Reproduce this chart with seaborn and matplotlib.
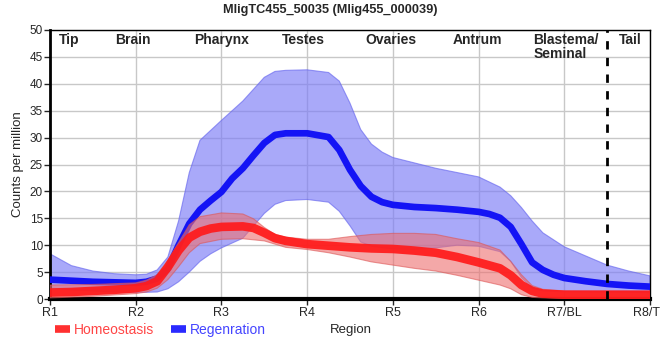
import matplotlib
matplotlib.use("Agg")
import matplotlib.pyplot as plt
from matplotlib.lines import Line2D
import seaborn as sns
import pandas as pd
import numpy as np

# ---- data (positions are fractional region indices) ----
regions = ["R1", "R2", "R3", "R4", "R5", "R6", "R7/BL", "R8/TL"]
region_names = ["Tip", "Brain", "Pharynx", "Testes", "Ovaries", "Antrum", "Blastema/\nSeminal", "Tail"]
region_name_pos = [0.22, 0.97, 2.0, 2.96, 3.98, 4.99, 5.64, 6.77]

reg_mean_pos = [0, 0.25, 0.5, 0.75, 1.0, 1.125, 1.25, 1.375, 1.5, 1.625, 1.75, 1.875, 2.0, 2.125,
                2.25, 2.375, 2.5, 2.625, 2.75, 3.0, 3.25, 3.375, 3.5, 3.625, 3.75, 3.875, 4.0,
                4.25, 4.5, 4.75, 5.0, 5.125, 5.25, 5.375, 5.5, 5.625, 5.75, 5.875, 6.0, 6.25,
                6.5, 6.75, 7.0]
reg_mean = [3.6, 3.4, 3.2, 3.1, 3.0, 3.2, 3.8, 5.6, 10.0, 14.0, 16.6, 18.3, 19.9, 22.4,
            24.3, 26.7, 29.0, 30.5, 30.8, 30.8, 30.1, 27.7, 24.0, 21.0, 19.0, 18.0, 17.5,
            17.1, 16.9, 16.6, 16.2, 15.8, 15.1, 13.4, 10.2, 6.8, 5.4, 4.5, 3.9, 3.3,
            2.8, 2.5, 2.3]

reg_upper_pos = [0, 0.25, 0.5, 0.75, 1.0, 1.125, 1.25, 1.375, 1.5, 1.625, 1.75, 2.0, 2.25, 2.5,
                 2.625, 2.75, 3.0, 3.25, 3.375, 3.5, 3.625, 3.75, 3.875, 4.0, 4.25, 4.5, 4.75,
                 5.0, 5.25, 5.375, 5.5, 5.625, 5.75, 6.0, 6.25, 6.5, 6.75, 7.0]
reg_upper = [8.4, 6.2, 5.2, 4.7, 4.5, 4.6, 5.4, 7.8, 14.5, 23.5, 29.5, 33.2, 36.8, 41.2,
             42.3, 42.5, 42.6, 42.1, 40.5, 36.4, 31.5, 28.8, 27.3, 26.3, 25.3, 24.3, 23.5,
             22.7, 20.8, 19.2, 17.0, 14.5, 12.3, 9.7, 8.0, 6.3, 5.2, 4.3]

reg_lower_pos = [0, 0.25, 0.5, 0.75, 1.0, 1.25, 1.375, 1.5, 1.625, 1.75, 1.875, 2.0, 2.25, 2.375,
                 2.5, 2.625, 2.75, 3.0, 3.25, 3.375, 3.5, 3.625, 3.75, 4.0, 4.25, 4.5, 4.75,
                 5.0, 5.25, 5.375, 5.5, 5.625, 5.75, 6.0, 7.0]
reg_lower = [2.0, 1.7, 1.5, 1.3, 1.2, 1.3, 1.9, 3.2, 5.0, 7.0, 8.4, 9.5, 11.3, 13.6,
             15.9, 17.6, 18.3, 18.5, 18.0, 16.3, 13.6, 10.6, 9.8, 9.3, 9.2, 9.5, 10.0,
             9.8, 8.8, 7.0, 4.0, 2.0, 1.5, 1.3, 1.2]

hom_mean_pos = [0, 0.25, 0.5, 0.75, 1.0, 1.125, 1.25, 1.375, 1.5, 1.625, 1.75, 1.875, 2.0, 2.25,
                2.375, 2.5, 2.625, 2.75, 3.0, 3.25, 3.5, 3.75, 4.0, 4.25, 4.5, 4.75, 5.0, 5.25,
                5.375, 5.5, 5.625, 5.75, 6.0, 7.0]
hom_mean = [1.2, 1.3, 1.5, 1.7, 2.0, 2.4, 3.3, 5.9, 9.0, 11.4, 12.5, 13.1, 13.4, 13.5,
            13.2, 12.3, 11.3, 10.8, 10.2, 9.9, 9.6, 9.4, 9.3, 9.0, 8.6, 7.8, 6.8, 5.7,
            4.4, 2.6, 1.5, 1.0, 0.8, 0.8]

hom_upper_pos = [0, 0.5, 1.0, 1.125, 1.25, 1.375, 1.5, 1.625, 1.75, 2.0, 2.25, 2.375, 2.5, 2.625,
                 2.75, 3.0, 3.25, 3.5, 3.75, 4.0, 4.25, 4.5, 4.75, 5.0, 5.25, 5.375, 5.5, 5.625,
                 5.75, 6.0, 7.0]
hom_upper = [2.6, 2.7, 3.0, 3.5, 4.5, 7.2, 10.5, 13.8, 15.3, 16.0, 15.8, 14.9, 13.3, 12.0,
             11.5, 11.1, 11.1, 11.6, 12.0, 12.2, 12.2, 12.0, 11.2, 10.5, 9.1, 7.0, 4.5, 2.5,
             1.8, 1.5, 1.4]

hom_lower_pos = [0, 0.5, 1.0, 1.125, 1.25, 1.375, 1.5, 1.625, 1.75, 2.0, 2.25, 2.5, 2.625, 2.75,
                 3.0, 3.25, 3.5, 3.75, 4.0, 4.25, 4.5, 4.75, 5.0, 5.25, 5.375, 5.5, 5.625, 5.75,
                 6.0, 7.0]
hom_lower = [0.2, 0.5, 1.0, 1.3, 2.0, 3.6, 6.0, 8.6, 10.3, 11.1, 11.2, 10.8, 10.2, 9.6,
             9.2, 8.6, 7.8, 6.9, 6.3, 5.7, 5.2, 4.4, 3.5, 2.6, 1.9, 0.8, 0.3, 0.2,
             0.1, 0.1]

title = "MligTC455_50035 (Mlig455_000039)"

# ---- tables ----
reg = pd.DataFrame({"pos": reg_mean_pos, "cpm": reg_mean})
hom = pd.DataFrame({"pos": hom_mean_pos, "cpm": hom_mean})


def band_polygon(up_pos, up, lo_pos, lo):
    xs = np.concatenate([np.asarray(up_pos, float), np.asarray(lo_pos, float)[::-1]])
    ys = np.concatenate([np.asarray(up, float), np.asarray(lo, float)[::-1]])
    return xs, ys


sns.set_style("white")
plt.rcParams["font.family"] = ["Liberation Sans", "DejaVu Sans"]

fig = plt.figure(figsize=(6.6, 3.6), dpi=100)
ax = fig.add_axes([50 / 660, 1 - 299 / 360, 600 / 660, 269 / 360])

blue_line = "#1414F5"
blue_band = "#7B7BF7"
red_line = "#FF1A1A"
red_band = "#EE6F6F"

bx, by = band_polygon(reg_upper_pos, reg_upper, reg_lower_pos, reg_lower)
ax.fill(bx, by, color=blue_band, alpha=0.65, lw=0.8, edgecolor="#6666EE", zorder=2)
sns.lineplot(data=reg, x="pos", y="cpm", color=blue_line, lw=4.8, ax=ax, zorder=3,
             legend=False, solid_joinstyle="round")
rx, ry = band_polygon(hom_upper_pos, hom_upper, hom_lower_pos, hom_lower)
ax.fill(rx, ry, color=red_band, alpha=0.6, lw=0.8, edgecolor="#DD5555", zorder=4)
sns.lineplot(data=hom, x="pos", y="cpm", color=red_line, lw=6.2, ax=ax, zorder=5,
             legend=False, alpha=0.92, solid_joinstyle="round")

ax.set_xlim(0, 7)
ax.set_ylim(0, 50)
ax.set_xticks(range(len(regions)))
ax.set_xticklabels(regions, fontsize=9)
ax.set_yticks(range(0, 51, 5))
ax.tick_params(axis="y", labelsize=8.5, length=4, width=1, direction="out", pad=1, left=True)
ax.tick_params(axis="x", length=4, width=1, direction="out", pad=2, bottom=True)
ax.grid(True, color="#C8C8C8", lw=1, zorder=0)
ax.set_axisbelow(True)

for s in ["top", "right"]:
    ax.spines[s].set_linewidth(1.0)
    ax.spines[s].set_color("black")
ax.spines["left"].set_linewidth(2.0)
ax.spines["bottom"].set_linewidth(3.0)
ax.spines["left"].set_color("black")
ax.spines["bottom"].set_color("black")

ax.axvline(6.5, color="black", ls=(0, (3, 3)), lw=2, zorder=6)

for name, p in zip(region_names, region_name_pos):
    ha = "left" if "\n" in name else "center"
    ax.text(p, 49.4, name, ha=ha, va="top", fontsize=10, fontweight="bold", zorder=7, linespacing=1.0)

ax.set_ylabel("Counts per million", fontsize=9.5, labelpad=4)
ax.set_xlabel("Region", fontsize=9.5)
ax.xaxis.set_label_coords((351 - 50) / 600, -0.093)
ax.xaxis.label.set_va("top")

fig.suptitle(title, x=0.5, y=0.99, va="top", fontsize=9.2, fontweight="bold")

handles = [Line2D([], [], color="#FF3030", lw=5.5, solid_capstyle="butt"),
           Line2D([], [], color="#2A2AFF", lw=5.5, solid_capstyle="butt")]
leg = fig.legend(handles, ["Homeostasis", "Regenration"], loc="center left",
                 bbox_to_anchor=(55 / 660, 0.083), ncol=2, frameon=False, fontsize=10,
                 handlelength=1.1, handletextpad=0.25, columnspacing=1.2,
                 borderpad=0, borderaxespad=0)
for t, c in zip(leg.get_texts(), ["#FF4545", "#4545FF"]):
    t.set_color(c)

fig.savefig("out.png", dpi=100)
